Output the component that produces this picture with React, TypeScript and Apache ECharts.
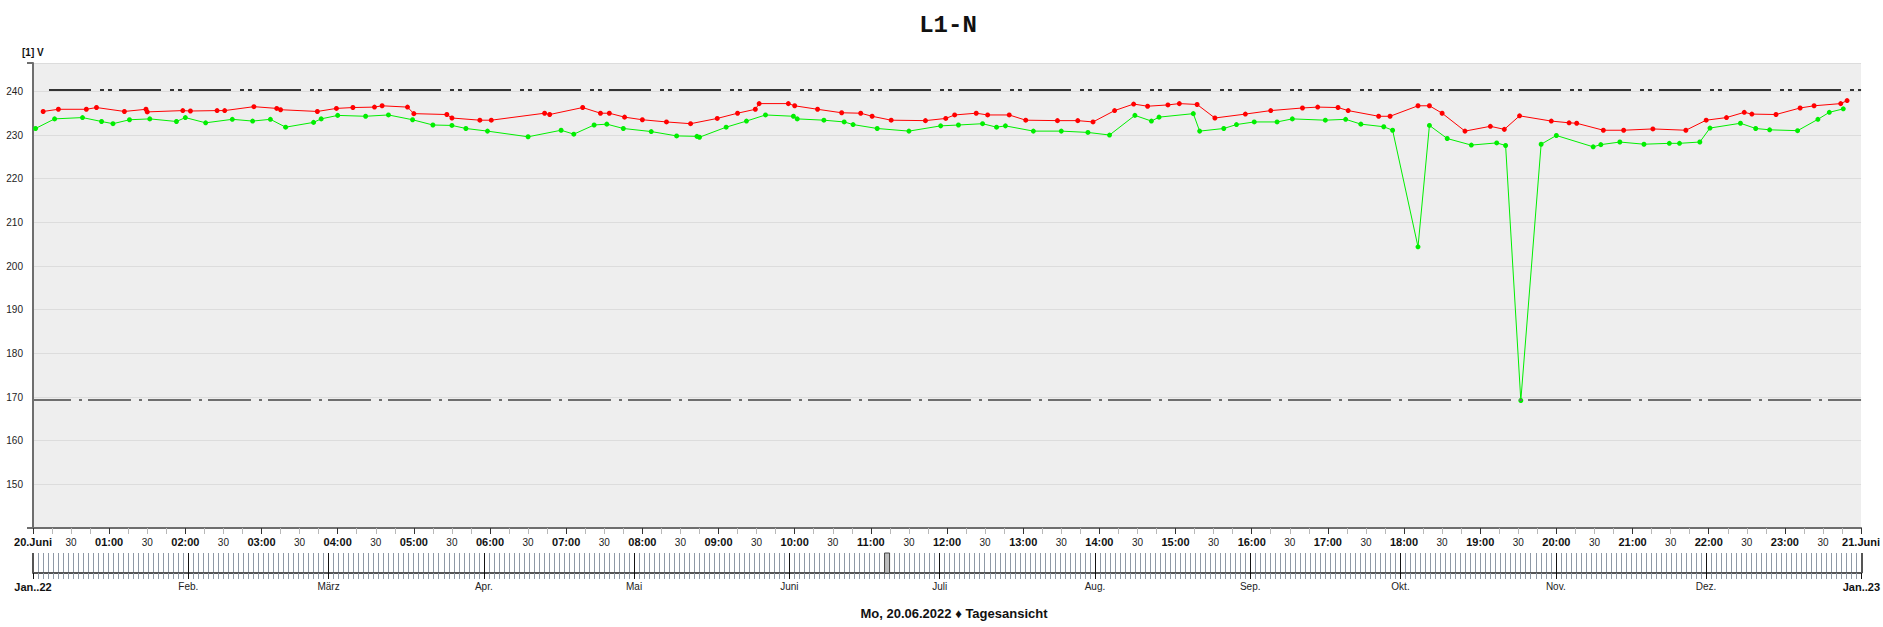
import React, { useEffect, useRef } from "react";
import * as echarts from "echarts";

const chartTitle = "L1-N";
const yUnit = "[1] V";
const footerText = "Mo, 20.06.2022 \u2666 Tagesansicht";
const dayStartLabel = "20.Juni";
const dayEndLabel = "21.Juni";

const redTimes = ["00:08","00:20","00:42","00:50","01:12","01:29","01:30","01:58","02:04","02:25","02:31","02:54","03:12","03:15","03:44","03:59","04:12","04:29","04:35","04:55","05:00","05:26","05:30","05:52","06:01","06:43","06:47","07:13","07:27","07:34","07:46","08:00","08:19","08:38","08:59","09:15","09:29","09:32","09:55","10:00","10:18","10:37","10:52","11:01","11:16","11:43","11:59","12:06","12:23","12:32","12:49","13:02","13:27","13:43","13:55","14:12","14:27","14:38","14:54","15:03","15:17","15:31","15:55","16:15","16:40","16:52","17:08","17:16","17:40","17:49","18:11","18:20","18:30","18:48","19:08","19:19","19:31","19:56","20:10","20:16","20:37","20:53","21:16","21:42","21:58","22:14","22:28","22:34","22:53","23:12","23:23","23:44","23:49"];
const redValues = [235.4,235.9,235.9,236.3,235.4,235.9,235.3,235.6,235.5,235.6,235.6,236.5,236.1,235.8,235.4,236.1,236.3,236.4,236.7,236.4,234.9,234.7,233.9,233.4,233.4,235.0,234.7,236.3,235.0,235.0,234.1,233.5,233.0,232.6,233.8,235.0,235.9,237.2,237.2,236.7,235.9,235.1,235.0,234.3,233.4,233.3,233.8,234.6,235.0,234.6,234.6,233.4,233.3,233.3,233.0,235.6,237.1,236.6,236.9,237.2,237.0,233.9,234.8,235.6,236.2,236.4,236.3,235.6,234.3,234.3,236.7,236.7,235.0,230.9,232.0,231.3,234.4,233.2,232.8,232.7,231.1,231.1,231.4,231.1,233.4,234.0,235.2,234.8,234.7,236.2,236.7,237.2,237.9];

const greenTimes = ["00:02","00:17","00:39","00:54","01:03","01:16","01:32","01:53","02:00","02:16","02:37","02:53","03:07","03:19","03:41","03:47","04:00","04:22","04:40","04:59","05:15","05:30","05:41","05:58","06:30","06:56","07:06","07:22","07:32","07:45","08:07","08:27","08:43","08:45","09:06","09:22","09:37","09:59","10:02","10:23","10:39","10:46","11:05","11:30","11:55","12:09","12:28","12:39","12:46","13:08","13:30","13:51","14:08","14:28","14:41","14:47","15:14","15:19","15:38","15:48","16:02","16:20","16:32","16:58","17:14","17:26","17:44","17:51","18:11","18:20","18:34","18:53","19:13","19:20","19:32","19:48","20:00","20:29","20:35","20:50","21:09","21:29","21:37","21:53","22:01","22:25","22:37","22:48","23:10","23:26","23:35","23:46"];
const greenValues = [231.5,233.7,234.0,233.1,232.6,233.5,233.7,233.1,234.0,232.8,233.6,233.2,233.6,231.8,232.9,233.7,234.5,234.3,234.6,233.5,232.3,232.2,231.5,230.9,229.6,231.1,230.2,232.3,232.5,231.5,230.8,229.8,229.7,229.5,231.8,233.2,234.6,234.3,233.7,233.4,233.0,232.4,231.5,230.9,232.1,232.3,232.6,231.8,232.1,230.9,230.9,230.6,230.0,234.5,233.2,234.1,234.9,230.9,231.5,232.4,233.0,233.0,233.7,233.4,233.6,232.5,231.9,231.1,204.4,232.2,229.2,227.7,228.2,227.6,169.2,227.9,229.9,227.3,227.8,228.4,227.9,228.1,228.1,228.4,231.6,232.7,231.5,231.2,231.0,233.6,235.2,236.0];

const upperLimit = 240.3;
const lowerLimit = 169.3;

const monthStarts = [0, 31, 59, 90, 120, 151, 181, 212, 243, 273, 304, 334, 365];
const monthLabels = ["Jan..22", "Feb.", "M\u00e4rz", "Apr.", "Mai", "Juni", "Juli", "Aug.", "Sep.", "Okt.", "Nov.", "Dez.", "Jan..23"];
const selectedDay = 170;

const FONT = '"Liberation Sans", Arial, sans-serif';

function toHours(s: string): number {
  const [h, m] = s.split(":").map(Number);
  return h + m / 60;
}
function pad2(n: number): string {
  return n < 10 ? "0" + n : String(n);
}

export default function App() {
  const ref = useRef<HTMLDivElement>(null);

  useEffect(() => {
    if (!ref.current) return;
    const chart = echarts.init(ref.current, undefined, { renderer: "svg" });

    const redData = redTimes.map((t, i) => [toHours(t), redValues[i]]);
    const greenData = greenTimes.map((t, i) => [toHours(t), greenValues[i]]);

    const option: any = {
      animation: false,
      backgroundColor: "#ffffff",
      textStyle: { fontFamily: FONT },
      grid: [
        { left: 33, top: 63, width: 1830, height: 465, show: true, backgroundColor: "#eeeeee", borderWidth: 0, containLabel: false },
        { left: 33, top: 553, width: 1830, height: 20, show: false, containLabel: false },
      ],
      xAxis: [
        {
          gridIndex: 0, type: "value", position: "bottom", min: 0, max: 24, interval: 0.25,
          axisLine: { show: true, onZero: false, lineStyle: { color: "#6e6e6e", width: 2 } },
          axisTick: { show: true, length: 6, lineStyle: { color: "#b8b8b8", width: 1 } },
          splitLine: { show: false },
          axisLabel: {
            interval: 0, fontSize: 10, color: "#222", fontFamily: FONT, margin: 9,
            formatter: (v: number) => (Math.round(v * 60) % 60 === 30 ? "30" : ""),
          },
        },
        {
          gridIndex: 0, type: "value", position: "bottom", min: 0, max: 24, interval: 1,
          axisLine: { show: false, onZero: false },
          axisTick: { show: true, length: 6, lineStyle: { color: "#333", width: 1 } },
          splitLine: { show: false },
          axisLabel: {
            interval: 0, fontSize: 11, fontWeight: "bold", color: "#111", fontFamily: FONT, margin: 8,
            formatter: (v: number) => (v === 0 ? dayStartLabel : v === 24 ? dayEndLabel : pad2(v) + ":00"),
          },
        },
        {
          gridIndex: 1, type: "value", position: "bottom", min: 0, max: 365, interval: 1,
          axisLine: { show: true, onZero: false, lineStyle: { color: "#555", width: 2 } },
          axisTick: { show: true, length: 6, lineStyle: { color: "#8f99a6", width: 1 } },
          splitLine: { show: true, lineStyle: { color: "#8f99a6", width: 1 } },
          axisLabel: { show: false },
        },
        {
          gridIndex: 1, type: "value", position: "bottom", min: 0, max: 365,
          axisLine: { show: false, onZero: false },
          axisTick: { show: true, length: 6, customValues: monthStarts, lineStyle: { color: "#111", width: 1 } },
          splitLine: { show: false },
          axisLabel: {
            show: true, customValues: monthStarts, margin: 8, fontSize: 10, color: "#222", fontFamily: FONT,
            formatter: (v: number) => {
              const i = monthStarts.indexOf(Math.round(v));
              if (i < 0) return "";
              if (i === 0 || i === monthStarts.length - 1) return "{b|" + monthLabels[i] + "}";
              return monthLabels[i];
            },
            rich: { b: { fontSize: 11, fontWeight: "bold", color: "#111", fontFamily: FONT } },
          },
        },
      ],
      yAxis: [
        {
          gridIndex: 0, type: "value", min: 140, max: 246.5, interval: 10,
          axisLine: { show: true, lineStyle: { color: "#6e6e6e", width: 2 } },
          axisTick: { show: false },
          splitLine: { show: true, lineStyle: { color: "#dcdcdc", width: 1 } },
          axisLabel: {
            fontSize: 10, color: "#222", margin: 10, fontFamily: FONT,
            formatter: (v: number) => (v % 10 === 0 && v !== 140 ? String(v) : ""),
          },
        },
        { gridIndex: 1, type: "value", min: 0, max: 1, show: false },
      ],
      series: [
        {
          name: "L1-N max", type: "line", xAxisIndex: 0, yAxisIndex: 0, data: redData,
          symbol: "circle", symbolSize: 5, showSymbol: true, z: 3,
          lineStyle: { color: "#ff0000", width: 1 }, itemStyle: { color: "#ff0000" },
          markLine: {
            silent: true, symbol: ["none", "none"], label: { show: false }, animation: false,
            data: [
              [
                { coord: [0.21, upperLimit], lineStyle: { color: "#333333", width: 2, type: [42, 9, 4, 4, 4, 7] } },
                { coord: [24, upperLimit] },
              ],
              { yAxis: lowerLimit, lineStyle: { color: "#6e6e6e", width: 2, type: [43, 8, 3, 6], dashOffset: 5 } },
            ],
          },
        },
        {
          name: "L1-N min", type: "line", xAxisIndex: 0, yAxisIndex: 0, data: greenData,
          symbol: "circle", symbolSize: 5, showSymbol: true, z: 4,
          lineStyle: { color: "#00ee00", width: 1 }, itemStyle: { color: "#00ee00" },
        },
        {
          name: "timeline", type: "line", xAxisIndex: 2, yAxisIndex: 1, data: [],
          markLine: {
            silent: true, symbol: ["none", "none"], label: { show: false },
            data: [
              ...monthStarts.slice(1, -1).map((d) => ({ xAxis: d, lineStyle: { color: "#111", width: 1, type: "solid" } })),
              { xAxis: 0, lineStyle: { color: "#555", width: 2, type: "solid" } },
              { xAxis: 365, lineStyle: { color: "#555", width: 2, type: "solid" } },
            ],
          },
          markArea: {
            silent: true,
            itemStyle: { color: "#bdbdbd", borderColor: "#444", borderWidth: 1 },
            data: [[{ xAxis: selectedDay }, { xAxis: selectedDay + 1 }]],
          },
        },
      ],
      graphic: [
        {
          type: "text", x: 948, y: 25,
          style: { text: chartTitle, font: 'bold 24px "Liberation Mono", "Courier New", monospace', fill: "#111", textAlign: "center", textVerticalAlign: "middle" },
        },
        {
          type: "text", x: 22, y: 52,
          style: { text: yUnit, font: "bold 10px " + FONT, fill: "#111", textAlign: "left", textVerticalAlign: "middle" },
        },
        {
          type: "text", x: 954, y: 613,
          style: { text: footerText, font: "bold 13px " + FONT, fill: "#111", textAlign: "center", textVerticalAlign: "middle" },
        },
        { type: "line", shape: { x1: 27, y1: 63, x2: 33, y2: 63 }, style: { stroke: "#6e6e6e", lineWidth: 2 } },
        { type: "line", shape: { x1: 27, y1: 528, x2: 33, y2: 528 }, style: { stroke: "#6e6e6e", lineWidth: 2 } },
      ],
    };

    chart.setOption(option);
    return () => chart.dispose();
  }, []);

  return (
    <div
      ref={ref}
      style={{ position: "fixed", left: 0, top: 0, width: "1883px", height: "627px", background: "#fff" }}
    />
  );
}
